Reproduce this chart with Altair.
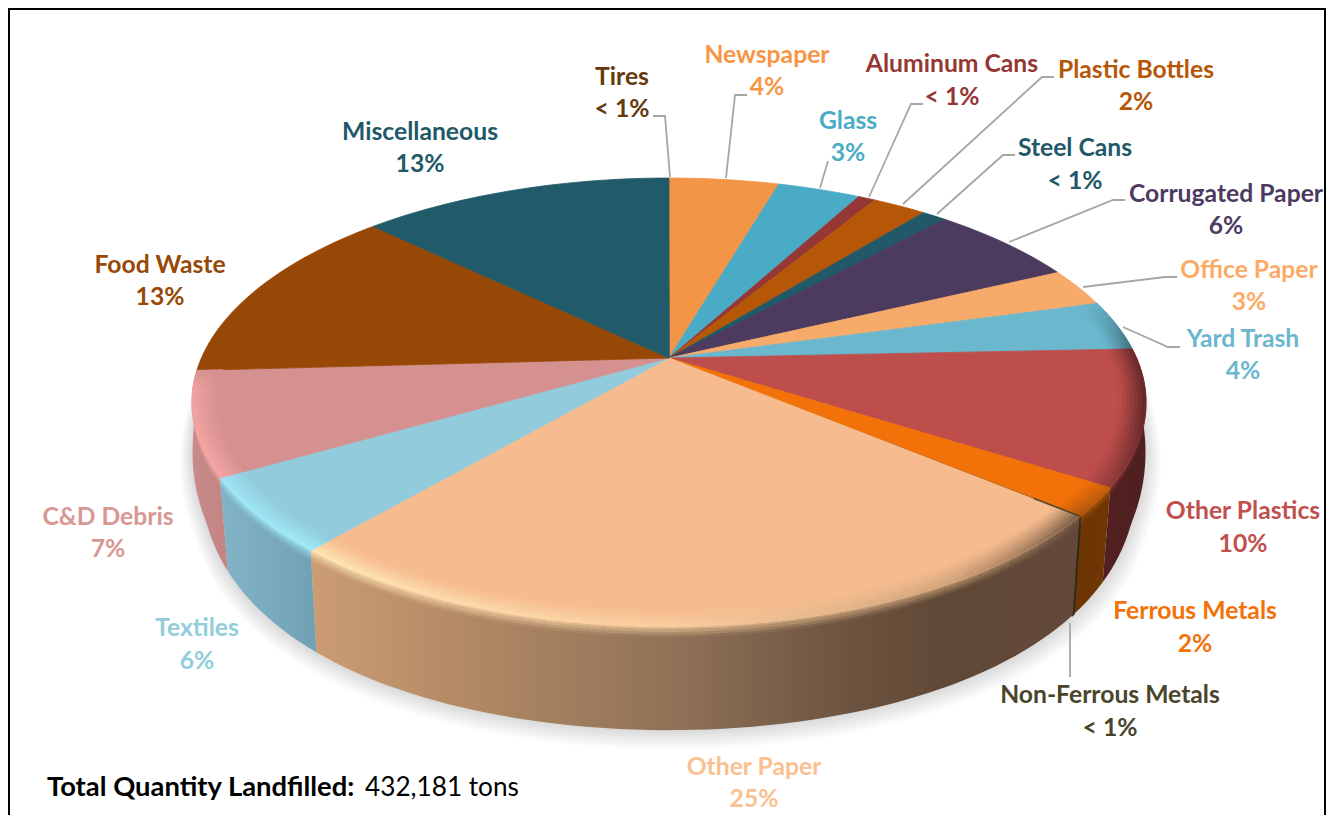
import math
import altair as alt
import pandas as pd

# ---- values ----
names = ["Newspaper", "Glass", "Aluminum Cans", "Plastic Bottles", "Steel Cans", "Corrugated Paper",
         "Office Paper", "Yard Trash", "Other Plastics", "Ferrous Metals", "Non-Ferrous Metals",
         "Other Paper", "Textiles", "C&D Debris", "Food Waste", "Miscellaneous", "Tires"]
shares = [4.5, 3.4, 0.7, 2.2, 1.0, 6.1, 2.8, 3.6, 9.7, 2.0, 0.08, 25.15, 5.35, 7.45, 13.1, 12.75, 0.03]
pct_labels = ["4%", "3%", "< 1%", "2%", "< 1%", "6%", "3%", "4%", "10%", "2%", "< 1%",
              "25%", "6%", "7%", "13%", "13%", "< 1%"]
face_colors = ["#f39547", "#4aabc6", "#953735", "#b65708", "#215968", "#4d3a5f", "#f7ab6b", "#6ab7ce",
               "#bd4e4c", "#f27209", "#4a452a", "#f6bc8f", "#92cbdc", "#d59190", "#974806", "#215a68", "#215a68"]
text_colors = ["#f79646", "#4bacc6", "#953735", "#b65708", "#215968", "#4d3a5f", "#fcab66", "#6ab7ce",
               "#c0504d", "#f27209", "#4a452a", "#fac090", "#92cddc", "#d99694", "#974806", "#215968", "#653a0e"]

# side-wall shades, left to right on screen: slice -> (offsets, colours)
wall_shades = {
    "Other Plastics": ([0.0, 1.0], ["#521f20", "#4f2021"]),
    "Ferrous Metals": ([0.0, 1.0], ["#6c3503", "#703704"]),
    "Other Paper": ([0.0, 0.18, 0.46, 0.70, 0.83, 1.0],
                    ["#cc9d74", "#b58b66", "#917358", "#6d5441", "#5f4835", "#64493a"]),
    "Non-Ferrous Metals": ([0.0, 1.0], ["#2e2a15", "#2e2a15"]),
    "Textiles": ([0.0, 1.0], ["#82b4c6", "#70a0b4"]),
    "C&D Debris": ([0.0, 1.0], ["#c98b8b", "#c38482"]),
}

# bevel shades on the rim of the top face
rim_stops = {
    "Yard Trash": [(74, "#6ab7ce"), (87, "#41707e")],
    "Other Plastics": [(87, "#6a2a2a"), (105, "#5e2525"), (123, "#8e3b3a")],
    "Ferrous Metals": [(122, "#c9600c"), (130, "#a9520e")],
    "Other Paper": [(129, "#70543f"), (150, "#cfa379"), (180, "#f9cfa0"), (221, "#ffe8b8")],
    "Textiles": [(220, "#a2ecf8"), (240, "#9ee6f5")],
    "C&D Debris": [(239, "#f6a8a7"), (262, "#f3a3a2"), (267, "#d59190")],
}

label_x = [767, 848, 952, 1136, 1075, 1226, 1249, 1243, 1243, 1195, 1110, 754, 197, 108, 160, 420, 622]
name_y = [54, 120, 63, 69, 147, 193, 269, 338, 510, 610, 694, 766, 627, 516, 264, 131, 76]
pct_y = [86, 152, 96, 101, 180, 225, 301, 370, 543, 643, 727, 798, 660, 548, 296, 163, 108]

leaders = {
    "Tires": ([653, 665, 670], [116, 116, 177]),
    "Newspaper": ([747, 735, 726], [95, 95, 178]),
    "Glass": ([828, 820], [161, 188]),
    "Aluminum Cans": ([923, 911, 869], [104, 104, 197]),
    "Plastic Bottles": ([1054, 1042, 903], [77, 77, 204]),
    "Steel Cans": ([1015, 1003, 937], [155, 155, 214]),
    "Corrugated Paper": ([1125, 1113, 1009], [200, 200, 242]),
    "Office Paper": ([1177, 1165, 1083], [277, 277, 287]),
    "Yard Trash": ([1180, 1168, 1123], [347, 347, 327]),
    "Non-Ferrous Metals": ([1070, 1070], [623, 677]),
}

# ---- picture geometry of the tilted disc ----
CX, CY, RX, RY, K = 669, 358, 467.6, 215.6, 0.198
BX, BK, BY0, BY, K2 = 458, 0.2035, 419, 295.6, 0.05
TOTAL = sum(shares)


def top_pt(theta, r=1.0):
    a, b = r * math.sin(math.radians(theta)), -r * math.cos(math.radians(theta))
    w = 1 - K * b
    return [CX + RX * a / w, CY + RY * b / w]


def bottom_pt(theta, s=1.0, dy=0.0, dx=0.0):
    a, b = math.sin(math.radians(theta)), -math.cos(math.radians(theta))
    bulge = 1 + 0.034 * max(0.0, 1 - b / 0.35)
    return [CX + dx + s * bulge * BX * a / (1 - BK * b), BY0 + dy + s * BY * b / (1 - K2 * b)]


def lerp_pt(p, q, t):
    return [p[0] + (q[0] - p[0]) * t, p[1] + (q[1] - p[1]) * t]


def hex2rgb(c):
    return [int(c[i:i + 2], 16) for i in (1, 3, 5)]


def mix(c1, c2, t):
    p, q = hex2rgb(c1), hex2rgb(c2)
    return "#%02x%02x%02x" % tuple(round(p[i] + (q[i] - p[i]) * t) for i in range(3))


def stop_color(stops, th):
    if th <= stops[0][0]:
        return stops[0][1]
    for (t0, c0), (t1, c1) in zip(stops, stops[1:]):
        if th <= t1:
            return mix(c0, c1, (th - t0) / (t1 - t0))
    return stops[-1][1]


def feature(ring, fill, stroke=None, opacity=1.0):
    ring = ring + [ring[0]]
    return {"type": "Feature", "geometry": {"type": "Polygon", "coordinates": [ring]},
            "properties": {"fill": fill, "stroke": stroke or fill, "op": opacity}}


def steps(t0, t1, d=1.5):
    n = max(1, int(math.ceil((t1 - t0) / d)))
    return [t0 + (t1 - t0) * i / n for i in range(n + 1)]


bounds = [0.0]
for s in shares:
    bounds.append(bounds[-1] + s / TOTAL * 360)

W, H = 1318, 807
PROJ = dict(type="identity", scale=1, translate=[-8, -8])

shadow, faces, rims, lips = [], [], [], []
wall_parts = {}
seam = []

# soft shadow under the disc
for i in range(12, 0, -1):
    f = i / 12
    ring = [bottom_pt(t, 1 + 0.03 * f, 10 * f, 1.5 * f) for t in steps(80, 280, 3)]
    shadow.append(feature(ring, "#000000", "#000000", 0.012))

for i, nm in enumerate(names):
    t0, t1 = bounds[i], bounds[i + 1]
    stroke = "#f27209" if nm == "Non-Ferrous Metals" else None
    faces.append(feature([[CX, CY]] + [top_pt(t) for t in steps(t0, t1)], face_colors[i], stroke))
    if nm == "Non-Ferrous Metals":
        tm = (t0 + t1) / 2
        seam.append(feature([top_pt(tm - 0.1, 0.9), top_pt(tm + 0.1, 0.9),
                             top_pt(tm + 0.1), top_pt(tm - 0.1)], face_colors[i]))
    if nm in wall_shades:
        pts = steps(t0, t1, 1.5)
        offs, cols = wall_shades[nm]
        grad = alt.Gradient(gradient="linear", x1=0, x2=1, y1=0, y2=0,
                            stops=[alt.GradientStop(offset=o, color=c) for o, c in zip(offs, cols)])
        ring = [top_pt(t) for t in pts] + [bottom_pt(t) for t in reversed(pts)]
        if nm == "Non-Ferrous Metals":
            mark = dict(fill=cols[0], stroke=cols[0], strokeWidth=1.4)
        else:
            mark = dict(fill=grad, strokeWidth=0)
        wall_parts[nm] = alt.Chart(alt.Data(values=[feature(ring, "#000000")])).mark_geoshape(
            **mark).project(**PROJ)
    if nm in rim_stops:
        pts = steps(t0, t1, 1.5)
        n = 7
        for k in range(n):
            r0, r1 = 0.945 + 0.055 * k / n, 0.945 + 0.055 * (k + 1) / n
            m = ((k + 0.5) / n) ** 1.2
            for p, q in zip(pts, pts[1:]):
                col = mix(face_colors[i], stop_color(rim_stops[nm], (p + q) / 2), m)
                rims.append(feature([top_pt(p, r0), top_pt(q, r0), top_pt(q, r1), top_pt(p, r1)], col))
        if nm in ("Other Paper", "Textiles", "C&D Debris", "Ferrous Metals", "Other Plastics"):
            for k in range(4):
                f0, f1 = 0.025 * k, 0.025 * (k + 1)
                op = 0.8 * (1 - (k + 0.5) / 4)
                for p, q in zip(pts, pts[1:]):
                    col = stop_color(rim_stops[nm], (p + q) / 2)
                    lips.append(feature([lerp_pt(top_pt(p), bottom_pt(p), f0),
                                         lerp_pt(top_pt(q), bottom_pt(q), f0),
                                         lerp_pt(top_pt(q), bottom_pt(q), f1),
                                         lerp_pt(top_pt(p), bottom_pt(p), f1)], col, "none", op))


def geo(features, width=0.8):
    return alt.Chart(alt.Data(values=features)).mark_geoshape(strokeWidth=width).encode(
        fill=alt.Fill("properties.fill:N", scale=None),
        stroke=alt.Stroke("properties.stroke:N", scale=None),
        opacity=alt.Opacity("properties.op:Q", scale=None),
    ).project(**PROJ)


shadow_layer = alt.Chart(alt.Data(values=shadow)).mark_geoshape(
    fill="#000000", fillOpacity=0.012, strokeWidth=0).project(**PROJ)

xs = alt.Scale(domain=[8, 1326], range=[0, W])
ys = alt.Scale(domain=[8, 815], range=[0, H])
X = alt.X("x:Q", scale=xs, axis=None)
Y = alt.Y("y:Q", scale=ys, axis=None)

lead_rows = []
for nm, (lx, ly) in leaders.items():
    for j, (px, py) in enumerate(zip(lx, ly)):
        lead_rows.append({"x": px, "y": py, "k": nm, "j": j})
lead = alt.Chart(pd.DataFrame(lead_rows)).mark_line(color="#a6a6a6", strokeWidth=1.8).encode(
    x=X, y=Y, detail="k:N", order="j:Q")

frame_df = pd.DataFrame({"x": [9, 9, 1325, 1325], "y": [815, 9, 9, 815], "j": [0, 1, 2, 3]})
frame = alt.Chart(frame_df).mark_line(color="#000000", strokeWidth=2).encode(x=X, y=Y, order="j:Q")

rows = []
for i, nm in enumerate(names):
    rows.append({"x": label_x[i], "y": name_y[i], "t": nm, "c": text_colors[i]})
    rows.append({"x": label_x[i], "y": pct_y[i], "t": pct_labels[i], "c": text_colors[i]})
labels = alt.Chart(pd.DataFrame(rows)).mark_text(
    font="Lato", fontWeight="bold", fontSize=24.7, align="center", baseline="middle", dy=2
).encode(x=X, y=Y, text="t:N", color=alt.Color("c:N", scale=None))

total_a = alt.Chart(pd.DataFrame({"x": [47], "y": [786], "t": ["Total Quantity Landfilled:"]})).mark_text(
    font="Lato", fontWeight="bold", fontSize=27.4, align="left", baseline="middle", color="#000000", dy=2
).encode(x=X, y=Y, text="t:N")
total_b = alt.Chart(pd.DataFrame({"x": [365], "y": [786], "t": ["432,181 tons"]})).mark_text(
    font="Lato", fontSize=26.2, align="left", baseline="middle", color="#000000", dy=2
).encode(x=X, y=Y, text="t:N")

chart = alt.layer(
    shadow_layer, *wall_parts.values(), geo(lips), geo(faces), geo(rims), geo(seam, 0.5),
    lead, frame, labels, total_a, total_b
).properties(width=W, height=H, padding=0, autosize="none", background="#ffffff").configure_view(stroke=None)

chart.save("out.html", embed_options={"renderer": "svg", "actions": False})
